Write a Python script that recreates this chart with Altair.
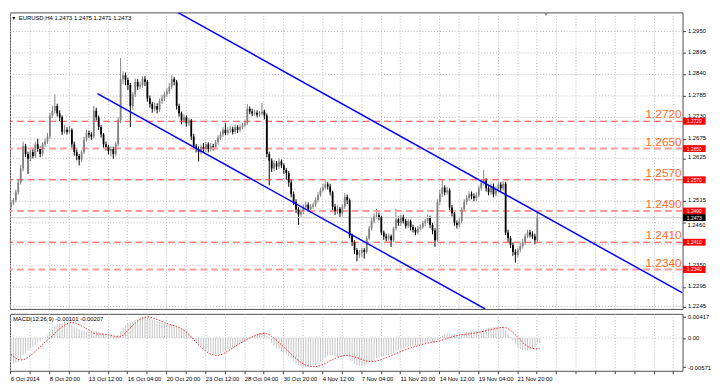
import json
import altair as alt
import pandas as pd

# ---------------- data ----------------
# EURUSD H4 candles, prices in pips (1e-4)
first_open_pips = 12500
close_pips = [
    12511, 12518, 12538, 12563, 12599, 12656, 12636, 12624, 12641, 12631,
    12661, 12649, 12636, 12661, 12668, 12681, 12735, 12747, 12759, 12740,
    12730, 12693, 12698, 12693, 12698, 12661, 12641, 12631, 12622, 12641,
    12673, 12690, 12686, 12681, 12747, 12730, 12705, 12686, 12661, 12654,
    12644, 12649, 12636, 12661, 12722, 12828, 12838, 12826, 12813, 12759,
    12789, 12821, 12809, 12813, 12828, 12821, 12779, 12764, 12752, 12759,
    12750, 12772, 12779, 12789, 12796, 12809, 12828, 12821, 12759, 12740,
    12722, 12730, 12715, 12722, 12681, 12656, 12649, 12641, 12654, 12649,
    12661, 12649, 12656, 12654, 12666, 12678, 12686, 12698, 12690, 12698,
    12700, 12693, 12705, 12698, 12705, 12710, 12715, 12752, 12745, 12740,
    12742, 12737, 12740, 12745, 12735, 12636, 12619, 12599, 12612, 12604,
    12617, 12607, 12595, 12587, 12563, 12533, 12513, 12494, 12481, 12489,
    12499, 12506, 12494, 12501, 12506, 12518, 12531, 12543, 12550, 12558,
    12553, 12538, 12501, 12489, 12496, 12484, 12501, 12526, 12518, 12427,
    12410, 12390, 12378, 12383, 12390, 12385, 12420, 12445, 12464, 12476,
    12479, 12474, 12435, 12425, 12420, 12425, 12415, 12445, 12469, 12459,
    12474, 12464, 12452, 12464, 12449, 12442, 12435, 12445, 12449, 12459,
    12464, 12472, 12454, 12440, 12415, 12513, 12533, 12550, 12538, 12543,
    12499, 12484, 12459, 12454, 12464, 12494, 12513, 12523, 12533, 12528,
    12523, 12531, 12548, 12563, 12568, 12548, 12538, 12553, 12533, 12543,
    12558, 12548, 12560, 12435, 12420, 12403, 12385, 12378, 12390, 12400,
    12410, 12425, 12435, 12430, 12425, 12415, 12473, 12473,
]
high_pips = [
    12518, 12524, 12545, 12570, 12608, 12668, 12662, 12642, 12648, 12650,
    12668, 12675, 12655, 12666, 12676, 12690, 12742, 12760, 12789, 12765,
    12748, 12735, 12710, 12705, 12708, 12702, 12668, 12648, 12636, 12646,
    12680, 12698, 12696, 12692, 12760, 12755, 12735, 12710, 12690, 12668,
    12660, 12656, 12655, 12668, 12730, 12882, 12848, 12845, 12832, 12818,
    12795, 12830, 12828, 12822, 12835, 12836, 12826, 12786, 12770, 12768,
    12766, 12778, 12788, 12796, 12805, 12818, 12838, 12834, 12826, 12765,
    12745, 12738, 12735, 12728, 12726, 12688, 12662, 12655, 12660, 12664,
    12668, 12666, 12664, 12662, 12672, 12684, 12694, 12705, 12715, 12705,
    12708, 12706, 12712, 12710, 12712, 12716, 12722, 12764, 12758, 12752,
    12750, 12748, 12746, 12767, 12750, 12740, 12642, 12625, 12620, 12618,
    12625, 12622, 12612, 12600, 12592, 12570, 12540, 12520, 12500, 12496,
    12506, 12514, 12512, 12508, 12512, 12525, 12538, 12550, 12560, 12568,
    12565, 12560, 12542, 12508, 12504, 12500, 12508, 12536, 12532, 12522,
    12432, 12415, 12395, 12390, 12396, 12395, 12426, 12452, 12472, 12484,
    12496, 12486, 12478, 12440, 12432, 12432, 12430, 12450, 12496, 12476,
    12480, 12480, 12470, 12470, 12468, 12455, 12448, 12452, 12456, 12465,
    12470, 12480, 12478, 12460, 12446, 12520, 12545, 12570, 12556, 12552,
    12548, 12505, 12490, 12466, 12472, 12500, 12520, 12530, 12540, 12540,
    12535, 12538, 12555, 12570, 12595, 12574, 12556, 12560, 12560, 12552,
    12565, 12564, 12566, 12565, 12442, 12426, 12410, 12392, 12396, 12408,
    12418, 12432, 12442, 12442, 12438, 12432, 12486, 12475,
]
low_pips = [
    12495, 12505, 12512, 12532, 12558, 12592, 12628, 12585, 12618, 12625,
    12626, 12642, 12628, 12630, 12655, 12662, 12675, 12728, 12740, 12732,
    12720, 12685, 12688, 12686, 12688, 12652, 12632, 12620, 12607, 12615,
    12636, 12668, 12678, 12672, 12676, 12722, 12698, 12678, 12652, 12645,
    12635, 12630, 12624, 12630, 12655, 12715, 12815, 12812, 12800, 12705,
    12750, 12782, 12800, 12802, 12806, 12810, 12770, 12755, 12742, 12745,
    12740, 12744, 12765, 12772, 12782, 12790, 12802, 12812, 12750, 12732,
    12712, 12715, 12706, 12708, 12672, 12648, 12640, 12617, 12635, 12640,
    12642, 12640, 12642, 12645, 12648, 12660, 12672, 12680, 12684, 12684,
    12690, 12686, 12688, 12690, 12692, 12700, 12704, 12710, 12738, 12733,
    12734, 12730, 12731, 12735, 12725, 12628, 12556, 12590, 12592, 12595,
    12598, 12600, 12585, 12570, 12552, 12525, 12505, 12485, 12455, 12475,
    12482, 12493, 12488, 12488, 12495, 12500, 12512, 12526, 12538, 12545,
    12545, 12530, 12492, 12480, 12482, 12475, 12478, 12495, 12508, 12420,
    12400, 12380, 12361, 12370, 12372, 12368, 12380, 12415, 12440, 12458,
    12470, 12466, 12428, 12416, 12412, 12414, 12398, 12410, 12440, 12452,
    12452, 12458, 12445, 12446, 12440, 12435, 12428, 12430, 12440, 12444,
    12452, 12458, 12446, 12430, 12398, 12410, 12505, 12526, 12530, 12532,
    12492, 12476, 12452, 12445, 12448, 12458, 12488, 12506, 12516, 12520,
    12515, 12516, 12525, 12542, 12556, 12540, 12530, 12532, 12525, 12528,
    12538, 12540, 12542, 12428, 12410, 12395, 12375, 12358, 12370, 12384,
    12394, 12404, 12420, 12422, 12418, 12405, 12410, 12471,
]
# MACD(12,26,9) in units of 1e-5
macd_main = [
    -480, -500, -490, -470, -420, -340, -290, -250, -210, -170,
    -130, -95, -60, -25, 10, 45, 120, 170, 220, 260,
    290, 305, 310, 300, 280, 250, 220, 190, 165, 145,
    135, 130, 125, 115, 130, 130, 120, 105, 85, 70,
    55, 45, 35, 35, 60, 130, 200, 250, 290, 300,
    320, 350, 370, 390, 410, 417, 400, 385, 365, 345,
    325, 310, 295, 280, 270, 265, 262, 255, 235, 210,
    185, 165, 140, 90, 30, -30, -90, -140, -180, -215,
    -245, -270, -290, -305, -310, -305, -290, -270, -250, -225,
    -200, -180, -160, -135, -115, -90, -65, -20, 15, 45,
    70, 85, 100, 110, 110, 40, -30, -100, -150, -190,
    -225, -255, -285, -320, -360, -405, -450, -495, -530, -550,
    -565, -571, -565, -555, -545, -525, -500, -470, -430, -390,
    -360, -340, -345, -360, -365, -370, -360, -340, -345, -400,
    -450, -500, -530, -545, -545, -540, -515, -485, -455, -425,
    -395, -370, -365, -355, -345, -330, -320, -295, -265, -245,
    -225, -205, -190, -175, -165, -155, -150, -140, -130, -115,
    -100, -85, -80, -80, -90, -40, 0, 45, 70, 85,
    85, 80, 70, 60, 60, 70, 85, 100, 115, 125,
    130, 135, 145, 160, 175, 190, 200, 205, 210, 215,
    220, 222, 225, 160, 90, 20, -50, -120, -175, -215,
    -240, -250, -245, -230, -210, -170, -108, -101,
]
macd_signal = [
    -320, -360, -395, -420, -430, -425, -405, -380, -345, -305,
    -260, -215, -170, -125, -80, -40, 0, 40, 90, 135,
    180, 215, 250, 275, 295, 300, 295, 280, 260, 235,
    210, 180, 150, 120, 95, 80, 75, 75, 75, 70,
    60, 50, 40, 30, 20, 25, 55, 100, 150, 200,
    245, 290, 330, 365, 390, 405, 410, 405, 395, 380,
    360, 340, 320, 300, 280, 265, 250, 240, 225, 205,
    180, 150, 115, 70, 20, -30, -80, -130, -180, -220,
    -260, -290, -315, -330, -340, -340, -330, -310, -285, -255,
    -225, -195, -165, -135, -105, -80, -55, -30, -5, 20,
    40, 60, 75, 85, 90, 80, 60, 30, -5, -45,
    -90, -135, -180, -225, -270, -315, -360, -400, -440, -475,
    -505, -530, -545, -555, -560, -558, -550, -535, -515, -495,
    -470, -445, -420, -400, -380, -365, -350, -343, -340, -345,
    -355, -368, -385, -402, -420, -437, -450, -457, -460, -457,
    -450, -437, -420, -403, -385, -365, -345, -325, -305, -285,
    -265, -245, -228, -210, -195, -180, -165, -150, -138, -125,
    -112, -100, -90, -80, -72, -65, -55, -40, -25, -10,
    5, 20, 35, 48, 58, 65, 70, 74, 78, 84,
    92, 100, 110, 120, 130, 142, 155, 165, 175, 185,
    195, 202, 205, 200, 180, 150, 110, 65, 15, -35,
    -85, -130, -165, -190, -205, -212, -210, -207,
]

date_labels = [
    "6 Oct 2014", "8 Oct 20:00", "13 Oct 12:00", "16 Oct 04:00", "20 Oct 20:00",
    "23 Oct 12:00", "28 Oct 04:00", "30 Oct 20:00", "4 Nov 12:00", "7 Nov 04:00",
    "11 Nov 20:00", "14 Nov 12:00", "19 Nov 04:00", "21 Nov 20:00",
]
# right-hand price labels that are not hidden behind the level boxes
price_ticks = [1.2950, 1.2895, 1.2840, 1.2785, 1.2730, 1.2675, 1.2625,
               1.2515, 1.2460, 1.2350, 1.2295, 1.2245]
# the label just below the current-price box sits a little lower
price_tick_below_box = [1.2460]
# horizontal price grid (MT4 grid at every price step)
price_grid = [1.2950, 1.2895, 1.2840, 1.2785, 1.2730, 1.2675, 1.2625,
              1.2570, 1.2515, 1.2460, 1.2405, 1.2350, 1.2295, 1.2245]
level_prices = [1.2720, 1.2650, 1.2570, 1.2490, 1.2410, 1.2340]
level_style = ["thin", "thick", "thin", "thick", "thin", "thick"]
current_price = 1.2473
header_text = "EURUSD,H4  1.2473 1.2475 1.2471 1.2473"
macd_text = "MACD(12,26,9) -0.00101 -0.00207"
macd_ticks = [0.00417, 0.0, -0.00571]
channel_name = ["upper", "upper", "lower", "lower"]
channel_bar = [68.4, 275.6, 35.5, 194.6]
channel_price = [1.2999, 1.2280, 1.2791, 1.2239]
shift_marker_bar = [219.6]

# ---------------- tables ----------------
N = len(close_pips)
open_pips = [first_open_pips] + close_pips[:-1]
candles = pd.DataFrame({
    "bar": list(range(N)),
    "open": [v / 1e4 for v in open_pips],
    "high": [v / 1e4 for v in high_pips],
    "low": [v / 1e4 for v in low_pips],
    "close": [v / 1e4 for v in close_pips],
})
candles["dir"] = ["up" if c >= o else "down" for o, c in zip(open_pips, close_pips)]

macd_df = pd.DataFrame({
    "bar": list(range(N)),
    "main": [v / 1e5 for v in macd_main],
    "signal": [v / 1e5 for v in macd_signal],
    "zero": [0.0] * N,
})
levels_df = pd.DataFrame({
    "price": level_prices,
    "style": level_style,
    "label": [f"{p:.4f}" for p in level_prices],
})
current_df = pd.DataFrame({"price": [current_price], "label": [f"{current_price:.4f}"]})
channel_df = pd.DataFrame({"line": channel_name, "bar": channel_bar, "price": channel_price})
grid_df = pd.DataFrame({"price": price_grid})
below_df = pd.DataFrame({"price": price_tick_below_box,
                         "label": [f"{p:.4f}" for p in price_tick_below_box]})

# ---------------- layout ----------------
W = 685
H_MAIN = 302
H_MACD = 58
BOX_X = W + 12
GRID = "#b8b8b8"

grid_vals = [-0.28 + 8 * k for k in range(35)]
xs = alt.Scale(domain=[-0.4, 275.6], nice=False, zero=False)
ys = alt.Scale(domain=[1.2239, 1.2999], nice=False, zero=False)
ys_macd = alt.Scale(domain=[-0.0064, 0.0047], nice=False, zero=False)

below_js = json.dumps(price_tick_below_box)
x_grid_axis = alt.Axis(values=grid_vals, grid=True, gridColor=GRID, gridDash=[1, 2],
                       labels=False, ticks=False, domain=False, title=None)
y_main_axis = alt.Axis(orient="right", values=price_ticks,
                       labelExpr=f"indexof({below_js}, datum.value) >= 0 ? '' : format(datum.value, '.4f')",
                       grid=False, labelFontSize=6, tickSize=3, labelPadding=2, labelOffset=-1.5,
                       labelOverlap=False, labelBound=False, labelFlush=False,
                       domain=False, title=None, tickColor="#404040")

color_dir = alt.Color("dir:N", scale=alt.Scale(domain=["up", "down"], range=["#808080", "#000000"]),
                      legend=None)

hgrid = alt.Chart(grid_df).mark_rule(color=GRID, strokeDash=[1, 2], strokeWidth=1).encode(
    y=alt.Y("price:Q", scale=ys, axis=y_main_axis))

base = alt.Chart(candles)
wicks = base.mark_rule(strokeWidth=1).encode(
    x=alt.X("bar:Q", scale=xs, axis=x_grid_axis),
    y=alt.Y("low:Q", axis=None),
    y2="high:Q",
    color=color_dir,
)
bodies = base.mark_rule(strokeWidth=1.8).encode(
    x=alt.X("bar:Q", axis=None), y=alt.Y("open:Q", axis=None), y2="close:Q", color=color_dir,
)

lvl = alt.Chart(levels_df)
lvl_thin = lvl.transform_filter("datum.style == 'thin'").mark_rule(
    color="#ff3c3c", strokeWidth=1, strokeDash=[7, 4]).encode(y=alt.Y("price:Q", axis=None))
lvl_thick = lvl.transform_filter("datum.style == 'thick'").mark_rule(
    color="#ff9a9a", strokeWidth=2, strokeDash=[7, 4]).encode(y=alt.Y("price:Q", axis=None))
lvl_labels = lvl.mark_text(align="right", baseline="alphabetic", fontSize=12, dy=-3,
                           color="#ff6a2a").encode(x=alt.value(W - 1), y=alt.Y("price:Q", axis=None),
                                                   text="label:N")
lvl_boxes = lvl.mark_tick(orient="horizontal", size=23, thickness=7, color="#ff0000",
                          opacity=1).encode(x=alt.value(BOX_X), y=alt.Y("price:Q", axis=None))
lvl_box_text = lvl.mark_text(fontSize=5, color="white", align="center", baseline="middle").encode(
    x=alt.value(BOX_X), y=alt.Y("price:Q", axis=None), text="label:N")

cur = alt.Chart(current_df)
cur_line = cur.mark_rule(color="#c8c8c8", strokeWidth=1).encode(y=alt.Y("price:Q", axis=None))
cur_box = cur.mark_tick(orient="horizontal", size=23, thickness=7, color="#000000",
                        opacity=1).encode(x=alt.value(BOX_X), y=alt.Y("price:Q", axis=None))
cur_text = cur.mark_text(fontSize=5, color="white", align="center", baseline="middle").encode(
    x=alt.value(BOX_X), y=alt.Y("price:Q", axis=None), text="label:N")
below_text = alt.Chart(below_df).mark_text(fontSize=6, color="#000000", align="left",
                                           baseline="middle", dy=2).encode(
    x=alt.value(W + 5), y=alt.Y("price:Q", axis=None), text="label:N")

channels = alt.Chart(channel_df).mark_line(color="#0000ff", strokeWidth=1.5, clip=True).encode(
    x=alt.X("bar:Q", axis=None), y=alt.Y("price:Q", axis=None), detail="line:N")

header = alt.Chart(pd.DataFrame({"t": [header_text]})).mark_text(
    align="left", baseline="middle", fontSize=6, color="#000000").encode(
    x=alt.value(9), y=alt.value(6), text="t:N")
header_tri = alt.Chart(pd.DataFrame({"t": [header_text]})).mark_point(
    shape="triangle-down", filled=True, size=10, color="#000000", opacity=1).encode(
    x=alt.value(4), y=alt.value(6))
shift_marker = alt.Chart(pd.DataFrame({"bar": shift_marker_bar})).mark_point(
    shape="triangle-down", filled=True, size=18, color="#909090", opacity=1).encode(
    x=alt.X("bar:Q", axis=None), y=alt.value(2))

main = alt.layer(
    hgrid, wicks, lvl_thick, lvl_thin, cur_line, bodies, channels,
    lvl_labels, lvl_boxes, lvl_box_text, below_text, cur_box, cur_text,
    header_tri, header, shift_marker,
).resolve_axis(x="independent", y="independent").properties(width=W, height=H_MAIN)

# ---------------- MACD panel ----------------
labels_js = json.dumps(date_labels)
kexpr = "round((datum.value + 0.28) / 8)"
date_expr = (f"({kexpr} % 2 == 0 && {kexpr} / 2 < {len(date_labels)}) ? "
             f"{labels_js}[{kexpr} / 2] : ''")
date_axis = alt.Axis(values=grid_vals, grid=True, gridColor=GRID, gridDash=[1, 2],
                     labelExpr=date_expr, labelAlign="left", labelFontSize=6, labelPadding=2,
                     tickSize=3, labelOverlap=False, labelFlush=False, labelBound=False,
                     domain=False, title=None, tickColor="#404040")
macd_axis = alt.Axis(orient="right", values=macd_ticks,
                     labelExpr="datum.value == 0 ? '0.00' : (datum.value < 0 ? '-' + format(-datum.value, '.5f') : format(datum.value, '.5f'))",
                     grid=False, labelFontSize=6, tickSize=3, labelPadding=2,
                     labelOverlap=False, labelBound=False, labelFlush=False,
                     domain=False, title=None, tickColor="#404040")

mbase = alt.Chart(macd_df)
hist = mbase.mark_rule(color="#c4c4c4", strokeWidth=1).encode(
    x=alt.X("bar:Q", scale=xs, axis=date_axis),
    y=alt.Y("main:Q", scale=ys_macd, axis=macd_axis),
    y2="zero:Q",
)
zero_line = alt.Chart(pd.DataFrame({"v": [0.0]})).mark_rule(
    color=GRID, strokeDash=[1, 2], strokeWidth=1).encode(y=alt.Y("v:Q", axis=None))
sig = mbase.mark_line(color="#ff2020", strokeWidth=1, strokeDash=[1.5, 1.5]).encode(
    x=alt.X("bar:Q", axis=None), y=alt.Y("signal:Q", axis=None))
macd_header = alt.Chart(pd.DataFrame({"t": [macd_text]})).mark_text(
    align="left", baseline="middle", fontSize=6, color="#000000").encode(
    x=alt.value(3), y=alt.value(5), text="t:N")

macd = alt.layer(hist, zero_line, sig, macd_header).resolve_axis(
    x="independent", y="independent").properties(width=W, height=H_MACD)

chart = alt.vconcat(main, macd, spacing=3).properties(
    padding={"left": 0, "top": 0, "right": 0, "bottom": 0}
).configure(font="Liberation Sans").configure_view(
    stroke="#505050", strokeWidth=1
).configure_axis(labelFont="Liberation Sans", labelColor="#000000", labelOverlap=False)

chart.save("out.html", embed_options={"renderer": "svg", "actions": False})
